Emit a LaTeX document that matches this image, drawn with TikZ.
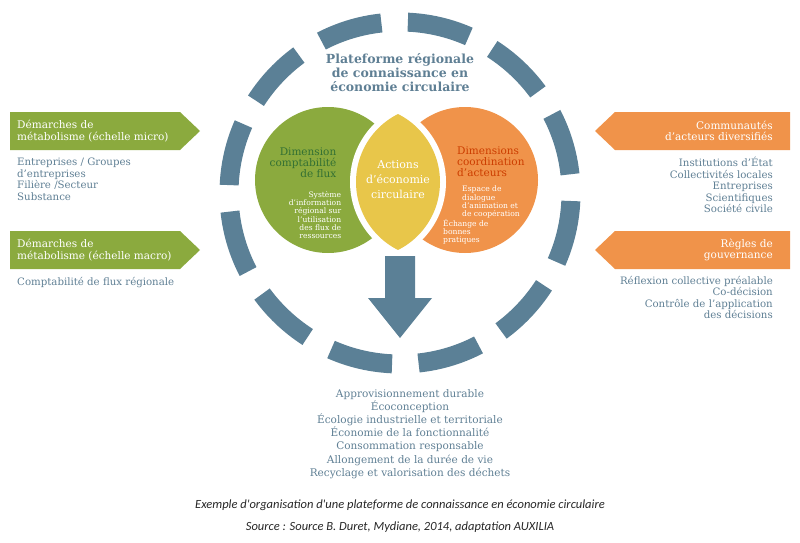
\documentclass[tikz,border=0pt]{standalone}
\usepackage{fontspec}
\setmainfont{DejaVu Serif}
\newfontfamily\capfont{Carlito}
\begin{document}
\begin{tikzpicture}[x=1pt,y=-1pt,
  txt/.style={text=tblue,font=\fontsize{10.2}{11.5}\selectfont,inner sep=0pt},
  tag/.style={font=\fontsize{10.5}{11.5}\selectfont,text=white,inner sep=0pt}]
\definecolor{tblue}{HTML}{5F7F94}
\definecolor{rblue}{HTML}{5B8096}
\definecolor{gr}{HTML}{8BAA3E}
\definecolor{og}{HTML}{F0934A}
\definecolor{ye}{HTML}{E8C64A}
\useasboundingbox (0,0) rectangle (800,543);
% ring
\draw[rblue,line width=19pt,dash pattern=on 63pt off 26.533pt,dash phase=-8pt] (400,193) circle[radius=171];
% circles
\fill[gr] (328,180) circle[radius=73];
\fill[og] (465,180) circle[radius=73];
\begin{scope}\clip (364,182) circle[radius=82];\fill[white] (432,182) circle[radius=82];\end{scope}
\begin{scope}\clip (364,182) circle[radius=76];\fill[ye] (432,182) circle[radius=76];\end{scope}
% arrow
\fill[rblue] (385,256) -- (415,256) -- (415,298) -- (432,298) -- (400,338) -- (368,298) -- (385,298) -- cycle;
% title
\node[align=center,text=tblue,font=\bfseries\fontsize{12.5}{14}\selectfont] (title) at (400,73) {Plateforme régionale\\de connaissance en\\économie circulaire};
% circle texts
\node[align=right,font=\fontsize{10.5}{11}\selectfont,text=green!30!black!80,inner sep=0] (g1) at (303,163) {Dimension\\comptabilité\\de flux};
\node[align=right,font=\fontsize{7.6}{8.2}\selectfont,text=white,inner sep=0] (g2) at (315,215) {Système\\d'information\\régional sur\\l'utilisation\\des flux de\\ressources};
\node[align=center,font=\fontsize{11}{15}\selectfont,text=white,inner sep=0] (y1) at (398,180) {Actions\\d'économie\\circulaire};
\node[align=left,font=\fontsize{10.5}{11}\selectfont,text=orange!60!red!80!black,inner sep=0,anchor=west] (o1) at (457,162) {Dimensions\\coordination\\d'acteurs};
\node[align=left,font=\fontsize{7.6}{8.2}\selectfont,text=white,inner sep=0,anchor=north west] (o2) at (462,186) {Espace de\\dialogue\\d'animation et\\de coopération};
\node[align=left,font=\fontsize{7.6}{8.2}\selectfont,text=white,inner sep=0,anchor=north west] (o3) at (443,219) {Échange de\\bonnes\\pratiques};
% left tags
\fill[gr] (10,112) -- (180,112) -- (200,131) -- (180,150) -- (10,150) -- cycle;
\node[tag,align=left,anchor=west] (l1) at (17,131) {Démarches de\\métabolisme (échelle micro)};
\node[txt,align=left,anchor=north west] (l1t) at (17,158) {Entreprises / Groupes\\d'entreprises\\Filière /Secteur\\Substance};
\fill[gr] (10,231) -- (180,231) -- (200,250) -- (180,269) -- (10,269) -- cycle;
\node[tag,align=left,anchor=west] (l2) at (17,250) {Démarches de\\métabolisme (échelle macro)};
\node[txt,anchor=north west] (l2t) at (17,277) {Comptabilité de flux régionale};
% right tags
\fill[og] (790,112) -- (615,112) -- (595,131) -- (615,150) -- (790,150) -- cycle;
\node[tag,align=right,anchor=east] (r1) at (773,131) {Communautés\\d'acteurs diversifiés};
\node[txt,align=right,anchor=north east] (r1t) at (773,157) {Institutions d'État\\Collectivités locales\\Entreprises\\Scientifiques\\Société civile};
\fill[og] (790,231) -- (615,231) -- (595,250) -- (615,269) -- (790,269) -- cycle;
\node[tag,align=right,anchor=east] (r2) at (773,250) {Règles de\\gouvernance};
\node[txt,align=right,anchor=north east] (r2t) at (773,276) {Réflexion collective préalable\\Co-décision\\Contrôle de l'application\\des décisions};
% bottom list
\node[txt,align=center,anchor=north,font=\fontsize{10.5}{13.2}\selectfont] (list) at (410,389) {Approvisionnement durable\\Écoconception\\Écologie industrielle et territoriale\\Économie de la fonctionnalité\\Consommation responsable\\Allongement de la durée de vie\\Recyclage et valorisation des déchets};
\node[font=\capfont\itshape\fontsize{12.5}{13}\selectfont,text=black!85] (c1) at (400,505) {Exemple d'organisation d'une plateforme de connaissance en économie circulaire};
\node[font=\capfont\itshape\fontsize{12.5}{13}\selectfont,text=black!85] (c2) at (400,527) {Source : Source B. Duret, Mydiane, 2014, adaptation AUXILIA};
\end{tikzpicture}
\end{document}
